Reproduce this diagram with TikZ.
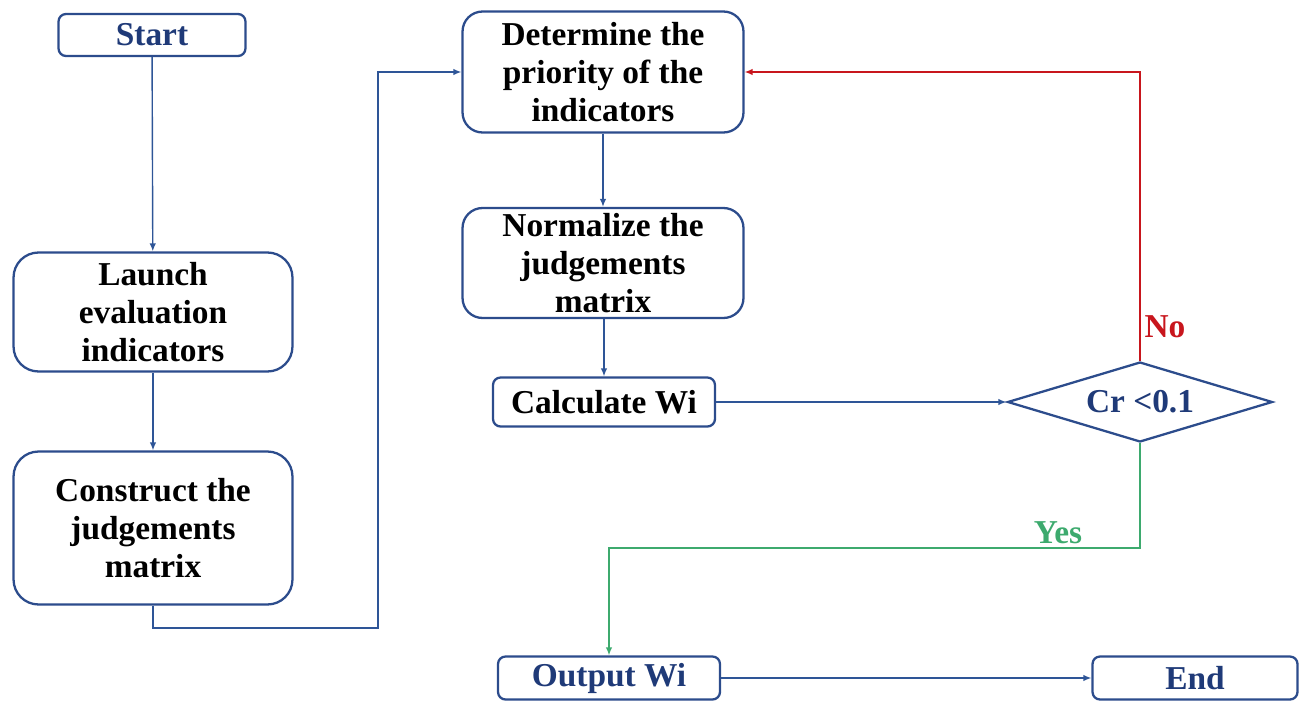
\documentclass[tikz,border=0pt]{standalone}
\usepackage{fontspec}
\setmainfont{Liberation Serif}
\usetikzlibrary{shapes.geometric,arrows.meta}

\definecolor{flowNavy}{HTML}{1F3A78}
\definecolor{flowEdge}{HTML}{2C4C8C}
\definecolor{flowBlue}{HTML}{2E5597}
\definecolor{flowRed}{HTML}{C8161D}
\definecolor{flowGreen}{HTML}{3DAA6E}

\tikzset{
  stepbox/.style={draw=flowEdge,line width=1.3pt,fill=white,align=center,
    inner sep=2pt,font=\fontsize{19}{21.6}\selectfont\bfseries},
  termbox/.style={stepbox,rounded corners=0.15cm,text=flowNavy},
  bigbox/.style={stepbox,rounded corners=0.5cm},
  flow/.style={line width=0.8pt,-{Latex[length=1.6mm,width=1.3mm]}},
}

\begin{document}
\begin{tikzpicture}[x=0.02cm,y=-0.02cm]
  \useasboundingbox (0,0) rectangle (1301,700);

  \node[termbox,minimum width=3.74cm,minimum height=0.84cm] (start) at (152,35) {Start};
  \node[bigbox,minimum width=5.58cm,minimum height=2.38cm] (launch) at (153,312) {Launch\\evaluation\\indicators};
  \node[bigbox,minimum width=5.58cm,minimum height=3.06cm] (construct) at (153,528) {Construct the\\judgements\\matrix};

  \node[bigbox,rounded corners=0.4cm,minimum width=5.62cm,minimum height=2.42cm] (priority) at (603,72) {Determine the\\priority of the\\indicators};
  \node[bigbox,rounded corners=0.4cm,minimum width=5.62cm,minimum height=2.2cm] (normalize) at (603,263) {Normalize the\\judgements\\matrix};
  \node[stepbox,rounded corners=0.15cm,minimum width=4.44cm,minimum height=0.98cm] (calcwi) at (604,402) {Calculate Wi};

  \node[diamond,aspect=3.3,draw=flowEdge,line width=1.3pt,fill=white,inner sep=0pt,
    minimum width=5.3cm,minimum height=1.6cm,text=flowNavy,
    font=\fontsize{19}{21.6}\selectfont\bfseries] (crtest) at (1140,402) {Cr <0.1};

  \node[termbox,minimum width=4.44cm,minimum height=0.86cm] (outwi) at (609,678) {Output Wi};
  \node[termbox,minimum width=4.1cm,minimum height=0.86cm] (finish) at (1195,678) {End};

  \coordinate (jump) at (378,628);
  \coordinate (yesbend) at (1140,548);

  \draw[flow,flowBlue] (start) -- (launch);
  \draw[flow,flowBlue] (launch) -- (construct);
  \draw[flow,flowBlue] (construct.south) |- (jump) |- (priority.west);
  \draw[flow,flowBlue] (priority) -- (normalize);
  \draw[flow,flowBlue] (normalize.south -| calcwi.north) -- (calcwi.north);
  \draw[flow,flowBlue] (calcwi) -- (crtest);
  \draw[flow,flowRed] (crtest.north) |- (priority.east);
  \draw[flow,flowGreen] (crtest.south) -- (yesbend) -| (outwi.north);
  \draw[flow,flowBlue] (outwi) -- (finish);

  \node[text=flowRed,font=\fontsize{19}{21.6}\selectfont\bfseries] (nolabel) at (1165,327) {No};
  \node[text=flowGreen,font=\fontsize{19}{21.6}\selectfont\bfseries] (yeslabel) at (1058,533) {Yes};
\end{tikzpicture}
\end{document}
